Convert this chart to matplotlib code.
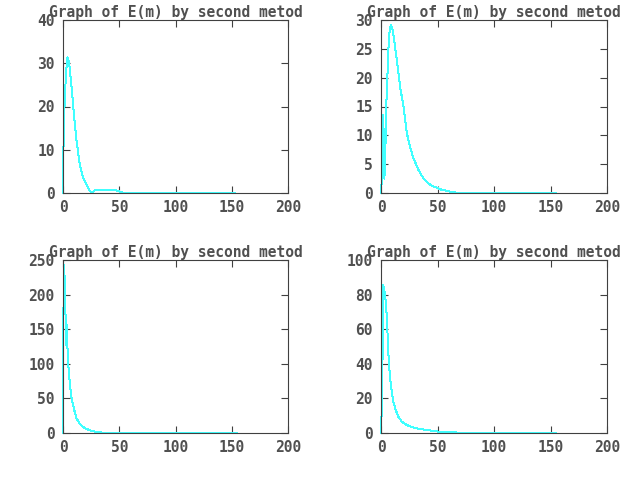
import matplotlib
matplotlib.use('Agg')
import matplotlib.pyplot as plt

# E(m) (m, value)
m_tl = [0, 0, 1, 2.7, 4, 5.3, 7.7, 9.8, 12.1, 15, 18, 21, 23.4, 25.5, 28.4, 46, 50, 53, 67, 153]
e_tl = [0, 4.9, 18, 28, 31.4, 30.4, 24.3, 18, 11.9, 6.5, 3.4, 1.85, 0.7, 0, 0.7, 0.7, 0.4, 0.1, 0.1, 0]

m_tr = [0, 1, 2, 3, 4, 5, 6, 7, 8.6, 10.4, 14, 16.9, 19.9, 22.8, 25.8, 28.7, 33.2, 37.6, 43.6, 52.4, 64.3, 76, 155]
e_tr = [0, 3.4, 13.5, 2.5, 8.6, 17.3, 21.9, 27.1, 29.2, 28.3, 23.1, 18.4, 15, 10.4, 8, 6, 4, 2.5, 1.4, 0.64, 0.1, 0, 0]

m_bl = [0, 0, 0.9, 1.8, 2.7, 3.0, 3.9, 4.7, 6.2, 7.7, 10, 12.1, 15.1, 19.6, 25.5, 31.4, 40, 155]
e_bl = [0, 120, 243, 211, 127, 161, 125, 98, 69, 50, 33, 21, 12.5, 6.7, 2.9, 1, 0, 0]

m_br = [0, 1, 2, 3, 4.4, 5.3, 6.5, 8, 9.5, 11, 13, 15.4, 18.4, 22.8, 30, 39, 51, 70, 155]
e_br = [0, 21, 85.5, 82.6, 75, 65, 46, 31.6, 24, 18, 13.3, 9.4, 6.5, 4.6, 2.9, 1.9, 0.8, 0.2, 0]

panels = [
    (m_tl, e_tl, 40, [0, 10, 20, 30, 40]),
    (m_tr, e_tr, 30, [0, 5, 10, 15, 20, 25, 30]),
    (m_bl, e_bl, 250, [0, 50, 100, 150, 200, 250]),
    (m_br, e_br, 100, [0, 20, 40, 60, 80, 100]),
]
xticks = [0, 50, 100, 150, 200]
title = 'Graph of E(m) by second metod'

plt.rcParams['font.family'] = 'DejaVu Sans Mono'
plt.rcParams['font.weight'] = 'bold'
txt = '#505050'
frame = '#404040'

fig = plt.figure(figsize=(6.4, 4.8), dpi=100)
# axes rectangles in figure fractions (left, bottom, width, height)
rects = [
    (63 / 640, 1 - 193 / 480, 225 / 640, 173 / 480),
    (381 / 640, 1 - 193 / 480, 226 / 640, 173 / 480),
    (63 / 640, 1 - 433 / 480, 225 / 640, 173 / 480),
    (381 / 640, 1 - 433 / 480, 226 / 640, 173 / 480),
]

for rect, (mx, ey, ymax, yt) in zip(rects, panels):
    ax = fig.add_axes(rect)
    ax.plot(mx, ey, color='#40ffff', lw=0.72, antialiased=False, clip_on=False)
    ax.set_xlim(0, 200)
    ax.set_ylim(0, ymax)
    ax.set_xticks(xticks)
    ax.set_yticks(yt)
    ax.tick_params(direction='in', length=5, width=0.8, color=frame,
                   top=True, right=True, labelsize=10.5, labelcolor=txt)
    ax.tick_params(axis='x', pad=5)
    ax.tick_params(axis='y', pad=6)
    for s in ax.spines.values():
        s.set_color(frame)
        s.set_linewidth(0.8)
    ax.set_title(title, fontsize=10.5, color=txt, fontweight='bold', pad=2)

fig.savefig('out.png', dpi=100)
